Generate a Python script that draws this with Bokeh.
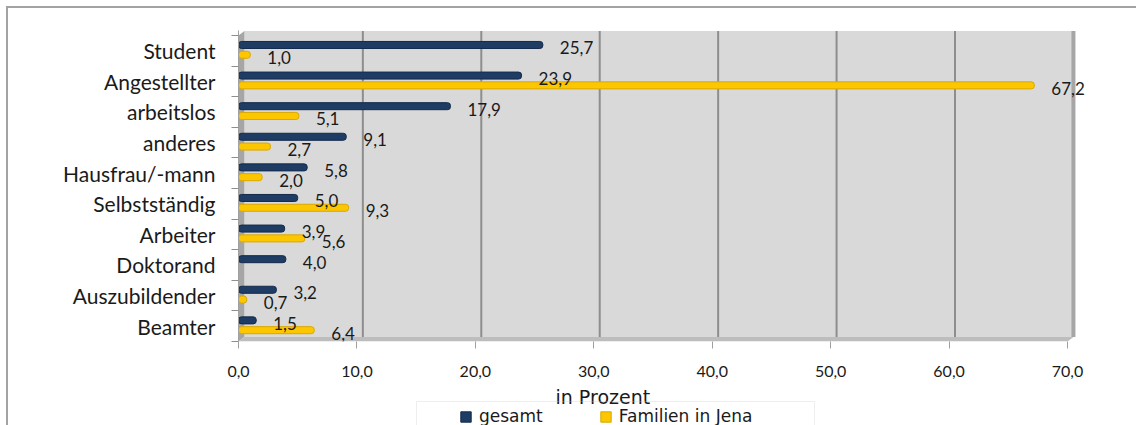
from bokeh.plotting import figure
from bokeh.layouts import column
from bokeh.models import (Range1d, FixedTicker, ColumnDataSource, Legend, LegendItem,
                          Label, BoxAnnotation)
from bokeh.core.properties import value
from bokeh.embed import file_html
from bokeh.resources import INLINE

# ---------------- data ----------------
categories = ["Student", "Angestellter", "arbeitslos", "anderes", "Hausfrau/-mann",
              "Selbstständig", "Arbeiter", "Doktorand", "Auszubildender", "Beamter"]
gesamt = [25.7, 23.9, 17.9, 9.1, 5.8, 5.0, 3.9, 4.0, 3.2, 1.5]
familien = [1.0, 67.2, 5.1, 2.7, 2.0, 9.3, 5.6, None, 0.7, 6.4]
series_names = ["gesamt", "Familien in Jena"]
x_ticks = [0, 10, 20, 30, 40, 50, 60, 70]
x_tick_labels = ["0,0", "10,0", "20,0", "30,0", "40,0", "50,0", "60,0", "70,0"]
x_title = "in Prozent"

# ---------------- style ----------------
NAVY = "#1f3c64"
NAVY_EDGE = "#152a4a"
YELLOW = "#fcc600"
YELLOW_EDGE = "#d9a800"
WALL = "#d9d9d9"
GRID = "#8e8e8e"
SIDE = "#a6a6a6"
FLOOR = "#bdbdbd"
TXT = "#1a1a1a"
D = 0.5      # depth offset (x units)
DY = 0.15    # depth offset (row units)
XMAX = max(x_ticks)
N = len(categories)
PX = 11.843  # pixels per x unit

def fmt(v):
    return f"{v:.1f}".replace(".", ",")

# ---------------- main plot ----------------
xr = Range1d(0, (1095 - 238) / PX)
p = figure(width=1128, height=377, output_backend="svg", toolbar_location=None,
           x_range=xr, y_range=Range1d(N - 0.5, -0.5 - 0.163),
           min_border_left=230, min_border_right=41, min_border_top=22,
           min_border_bottom=44)
p.background_fill_color = "white"
p.border_fill_color = "white"
p.outline_line_color = None
p.xgrid.visible = False
p.ygrid.visible = False

top_b = -0.5 - DY
bot_b = N - 0.5 - DY
p.quad(left=[D], right=[XMAX + D], top=[top_b], bottom=[bot_b],
       fill_color=WALL, line_color=None)
p.patch(x=[0, D, D, 0], y=[-0.5, top_b, bot_b, N - 0.5], fill_color=SIDE,
        line_color=None)
p.patch(x=[0, D, XMAX + D, XMAX], y=[N - 0.5, bot_b, bot_b, N - 0.5],
        fill_color=FLOOR, line_color=None)
gx = [t + D for t in x_ticks[1:]]
p.segment(x0=gx, y0=[top_b] * len(gx), x1=gx, y1=[bot_b] * len(gx),
          line_color=GRID, line_width=2)
p.segment(x0=[XMAX + D], y0=[top_b], x1=[XMAX + D], y1=[bot_b],
          line_color=SIDE, line_width=4)

idx = list(range(N))
src_g = ColumnDataSource(dict(y=[i - 0.19 for i in idx], v=gesamt,
                              t=[fmt(v) for v in gesamt]))
fi = [i for i in idx if familien[i] is not None]
src_f = ColumnDataSource(dict(y=[i + 0.13 for i in fi], v=[familien[i] for i in fi],
                              t=[fmt(familien[i]) for i in fi]))

p.hbar(y="y", left=0, right="v", height=0.23, source=src_g,
       fill_color=NAVY, line_color=NAVY_EDGE, line_width=1, border_radius=3)
p.hbar(y="y", left=0, right="v", height=0.23, source=src_f,
       fill_color=YELLOW, line_color=YELLOW_EDGE, line_width=1, border_radius=3)

for src in (src_g, src_f):
    p.text(x="v", y="y", text="t", source=src, x_offset=17, y_offset=3,
           text_font=value("Lato"), text_font_size="17px", text_baseline="middle",
           text_align="left", text_color=TXT)

xa = p.xaxis[0]
xa.ticker = FixedTicker(ticks=x_ticks, minor_ticks=[])
xa.major_label_overrides = {t: l for t, l in zip(x_ticks, x_tick_labels)}
xa.axis_line_color = None
xa.major_tick_line_color = "#a0a0a0"
xa.major_tick_out = 7
xa.major_tick_in = 0
xa.minor_tick_line_color = None
xa.major_label_text_font = "Lato"
xa.major_label_text_font_size = "16px"
xa.major_label_text_color = TXT
xa.major_label_standoff = 17

ya = p.yaxis[0]
ya.ticker = FixedTicker(ticks=idx, minor_ticks=[i - 0.5 for i in range(N + 1)])
ya.major_label_overrides = {i: c for i, c in zip(idx, categories)}
ya.axis_line_color = "#a0a0a0"
ya.major_tick_line_color = None
ya.major_tick_out = 7
ya.major_tick_in = 0
ya.minor_tick_line_color = "#8e8e8e"
ya.minor_tick_out = 7
ya.minor_tick_in = 0
ya.major_label_text_font = "Lato"
ya.major_label_text_font_size = "21px"
ya.major_label_text_color = TXT
ya.major_label_standoff = 16

# ---------------- strip below: axis title + legend ----------------
# (its frame is aligned with the main frame by the column layout)
q = figure(width=1128, height=40, output_backend="svg", toolbar_location=None,
           x_range=xr, y_range=Range1d(425, 385),
           x_axis_type=None, y_axis_type=None,
           min_border_left=230, min_border_right=41, min_border_top=0,
           min_border_bottom=0)
q.background_fill_color = "white"
q.border_fill_color = "white"
q.outline_line_color = None
q.xgrid.visible = False
q.ygrid.visible = False

# legend swatches (kept out of view; only their styles are used by the legend)
swatch = ColumnDataSource(dict(y=[1000], v=[0]))
lg = q.hbar(y="y", left=0, right="v", height=1, source=swatch,
            fill_color=NAVY, line_color=NAVY_EDGE)
lf = q.hbar(y="y", left=0, right="v", height=1, source=swatch,
            fill_color=YELLOW, line_color=YELLOW_EDGE)

q.add_layout(Label(x=(555 - 238) / PX, y=385, x_units="data", y_units="data",
                   text=x_title, text_font="DejaVu Sans", text_font_size="19px",
                   text_baseline="top", text_align="left", text_color=TXT))
q.add_layout(BoxAnnotation(left=(416 - 238) / PX, right=(814 - 238) / PX,
                           top=401, bottom=440, fill_color=None,
                           line_color="#c8c8c8", line_width=1))
legend = Legend(items=[LegendItem(label=series_names[0], renderers=[lg]),
                       LegendItem(label=series_names[1], renderers=[lf])],
                orientation="horizontal", location=(221, -1), padding=3, margin=0,
                spacing=56, label_standoff=7, glyph_width=13, glyph_height=13,
                label_text_font="DejaVu Sans", label_text_font_size="17px",
                label_text_color=TXT, border_line_color=None,
                background_fill_alpha=0)
q.add_layout(legend)

root = column(p, q, spacing=0)
root.styles = {"margin-left": "6px", "margin-top": "6px",
               "border-left": "2px solid #a3a3a3", "border-top": "2px solid #a3a3a3"}

open("out.html", "w").write(file_html(root, INLINE))
